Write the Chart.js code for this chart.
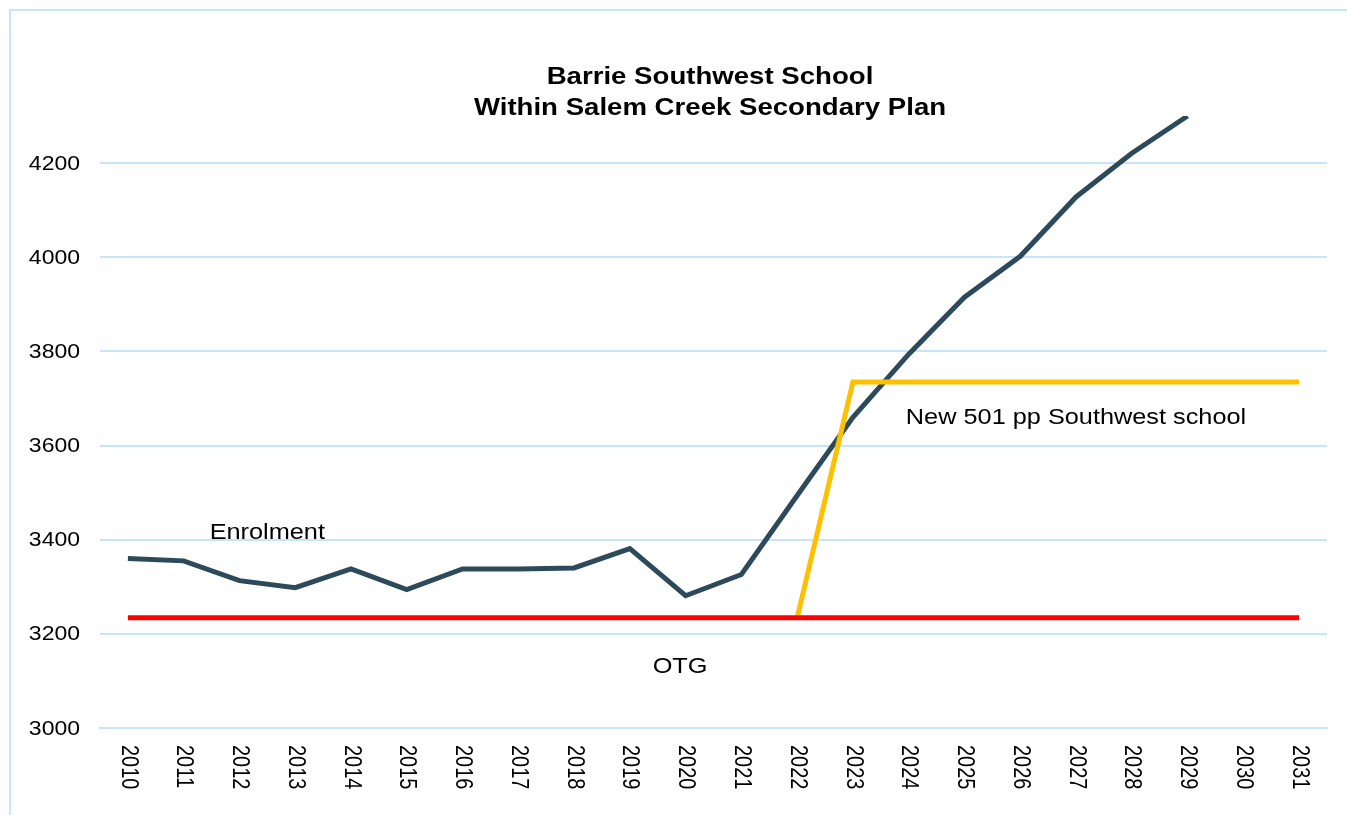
<!DOCTYPE html>
<html>
<head>
<meta charset="utf-8">
<script src="https://cdn.jsdelivr.net/npm/chart.js@4.4.1/dist/chart.umd.min.js"></script>
<style>
  body { margin: 0; background: #fff; overflow: hidden; }
  #wrap { position: relative; width: 1347px; height: 815px; }
  #frame { position: absolute; left: 9px; top: 9px; width: 1360px; height: 830px; border: 2px solid #c8e5f7; box-sizing: border-box; }
  #chart { position: absolute; left: 0; top: 0; }
</style>
</head>
<body>
<div id="wrap">
  <div id="frame"></div>
  <canvas id="chart" width="1347" height="815"></canvas>
</div>
<script>
const years = ["2010","2011","2012","2013","2014","2015","2016","2017","2018","2019","2020",
  "2021","2022","2023","2024","2025","2026","2027","2028","2029","2030","2031"];

const enrolment = [3360, 3355, 3313, 3298, 3338, 3294, 3338, 3338, 3340, 3381, 3281,
  3326, 3494, 3660, 3794, 3915, 4002, 4128, 4221, 4300, null, null];

const otg = [3234, 3234, 3234, 3234, 3234, 3234, 3234, 3234, 3234, 3234, 3234,
  3234, 3234, 3234, 3234, 3234, 3234, 3234, 3234, 3234, 3234, 3234];

const newSchool = [null, null, null, null, null, null, null, null, null, null, null,
  null, 3234, 3735, 3735, 3735, 3735, 3735, 3735, 3735, 3735, 3735];

const titleLines = ["Barrie Southwest School", "Within Salem Creek Secondary Plan"];

// text labels sitting inside the plot: [text, category index, value]
const notes = [
  ["Enrolment", 2.5, 3415],
  ["OTG", 9.9, 3130],
  ["New 501 pp Southwest school", 17, 3658]
];

const FONT = "'Liberation Sans', Arial, sans-serif";
const SX = 1.15; // the original text is a little wide

function wideText(c, txt, x, y, rot) {
  c.save();
  c.translate(x, y);
  c.scale(SX, 1);
  if (rot) c.rotate(rot);
  c.fillText(txt, 0, 0);
  c.restore();
}

const extras = {
  id: "extras",
  afterDraw(chart) {
    const c = chart.ctx;
    const xs = chart.scales.x, ys = chart.scales.y;
    c.save();
    c.fillStyle = "#000";

    // title
    c.font = "bold 24px " + FONT;
    c.textAlign = "center";
    c.textBaseline = "middle";
    wideText(c, titleLines[0], 710, 77);
    wideText(c, titleLines[1], 710, 108);

    // notes
    c.font = "22px " + FONT;
    notes.forEach(n => {
      wideText(c, n[0], xs.getPixelForValue(n[1]), ys.getPixelForValue(n[2]));
    });

    // y labels
    c.font = "20px " + FONT;
    c.textAlign = "right";
    ys.ticks.forEach(t => {
      wideText(c, String(t.value), 80, ys.getPixelForValue(t.value) + 1);
    });

    // x labels, reading top to bottom
    c.textAlign = "left";
    years.forEach((y, i) => {
      wideText(c, y, xs.getPixelForValue(i), chart.chartArea.bottom + 17, Math.PI / 2);
    });
    c.restore();
  }
};

new Chart(document.getElementById("chart"), {
  type: "line",
  data: {
    labels: years,
    datasets: [
      {
        label: "OTG",
        data: otg,
        borderColor: "#ff0000",
        borderWidth: 5,
        pointRadius: 0,
        tension: 0
      },
      {
        label: "New school",
        data: newSchool,
        borderColor: "#ffc000",
        borderWidth: 5,
        pointRadius: 0,
        tension: 0
      },
      {
        label: "Enrolment",
        data: enrolment,
        borderColor: "#2d4a5a",
        borderWidth: 5,
        pointRadius: 0,
        tension: 0
      }
    ]
  },
  options: {
    responsive: false,
    animation: false,
    events: [],
    layout: { padding: { left: 0, top: 116, right: 20, bottom: 87 } },
    plugins: {
      legend: { display: false },
      tooltip: { enabled: false },
      title: { display: false }
    },
    scales: {
      x: {
        offset: true,
        grid: { display: false },
        border: { color: "#c8e5f7", width: 2 },
        ticks: { display: false },
        afterFit(s) { s.height = 0; }
      },
      y: {
        min: 3000,
        max: 4300,
        afterBuildTicks(s) { s.ticks = s.ticks.filter(t => t.value % 200 === 0); },
        afterFit(s) { s.width = 100; },
        grid: { color: "#c8e5f7", lineWidth: 2, drawTicks: false },
        border: { display: false },
        ticks: { stepSize: 200, display: false }
      }
    }
  },
  plugins: [extras]
});
</script>
</body>
</html>
